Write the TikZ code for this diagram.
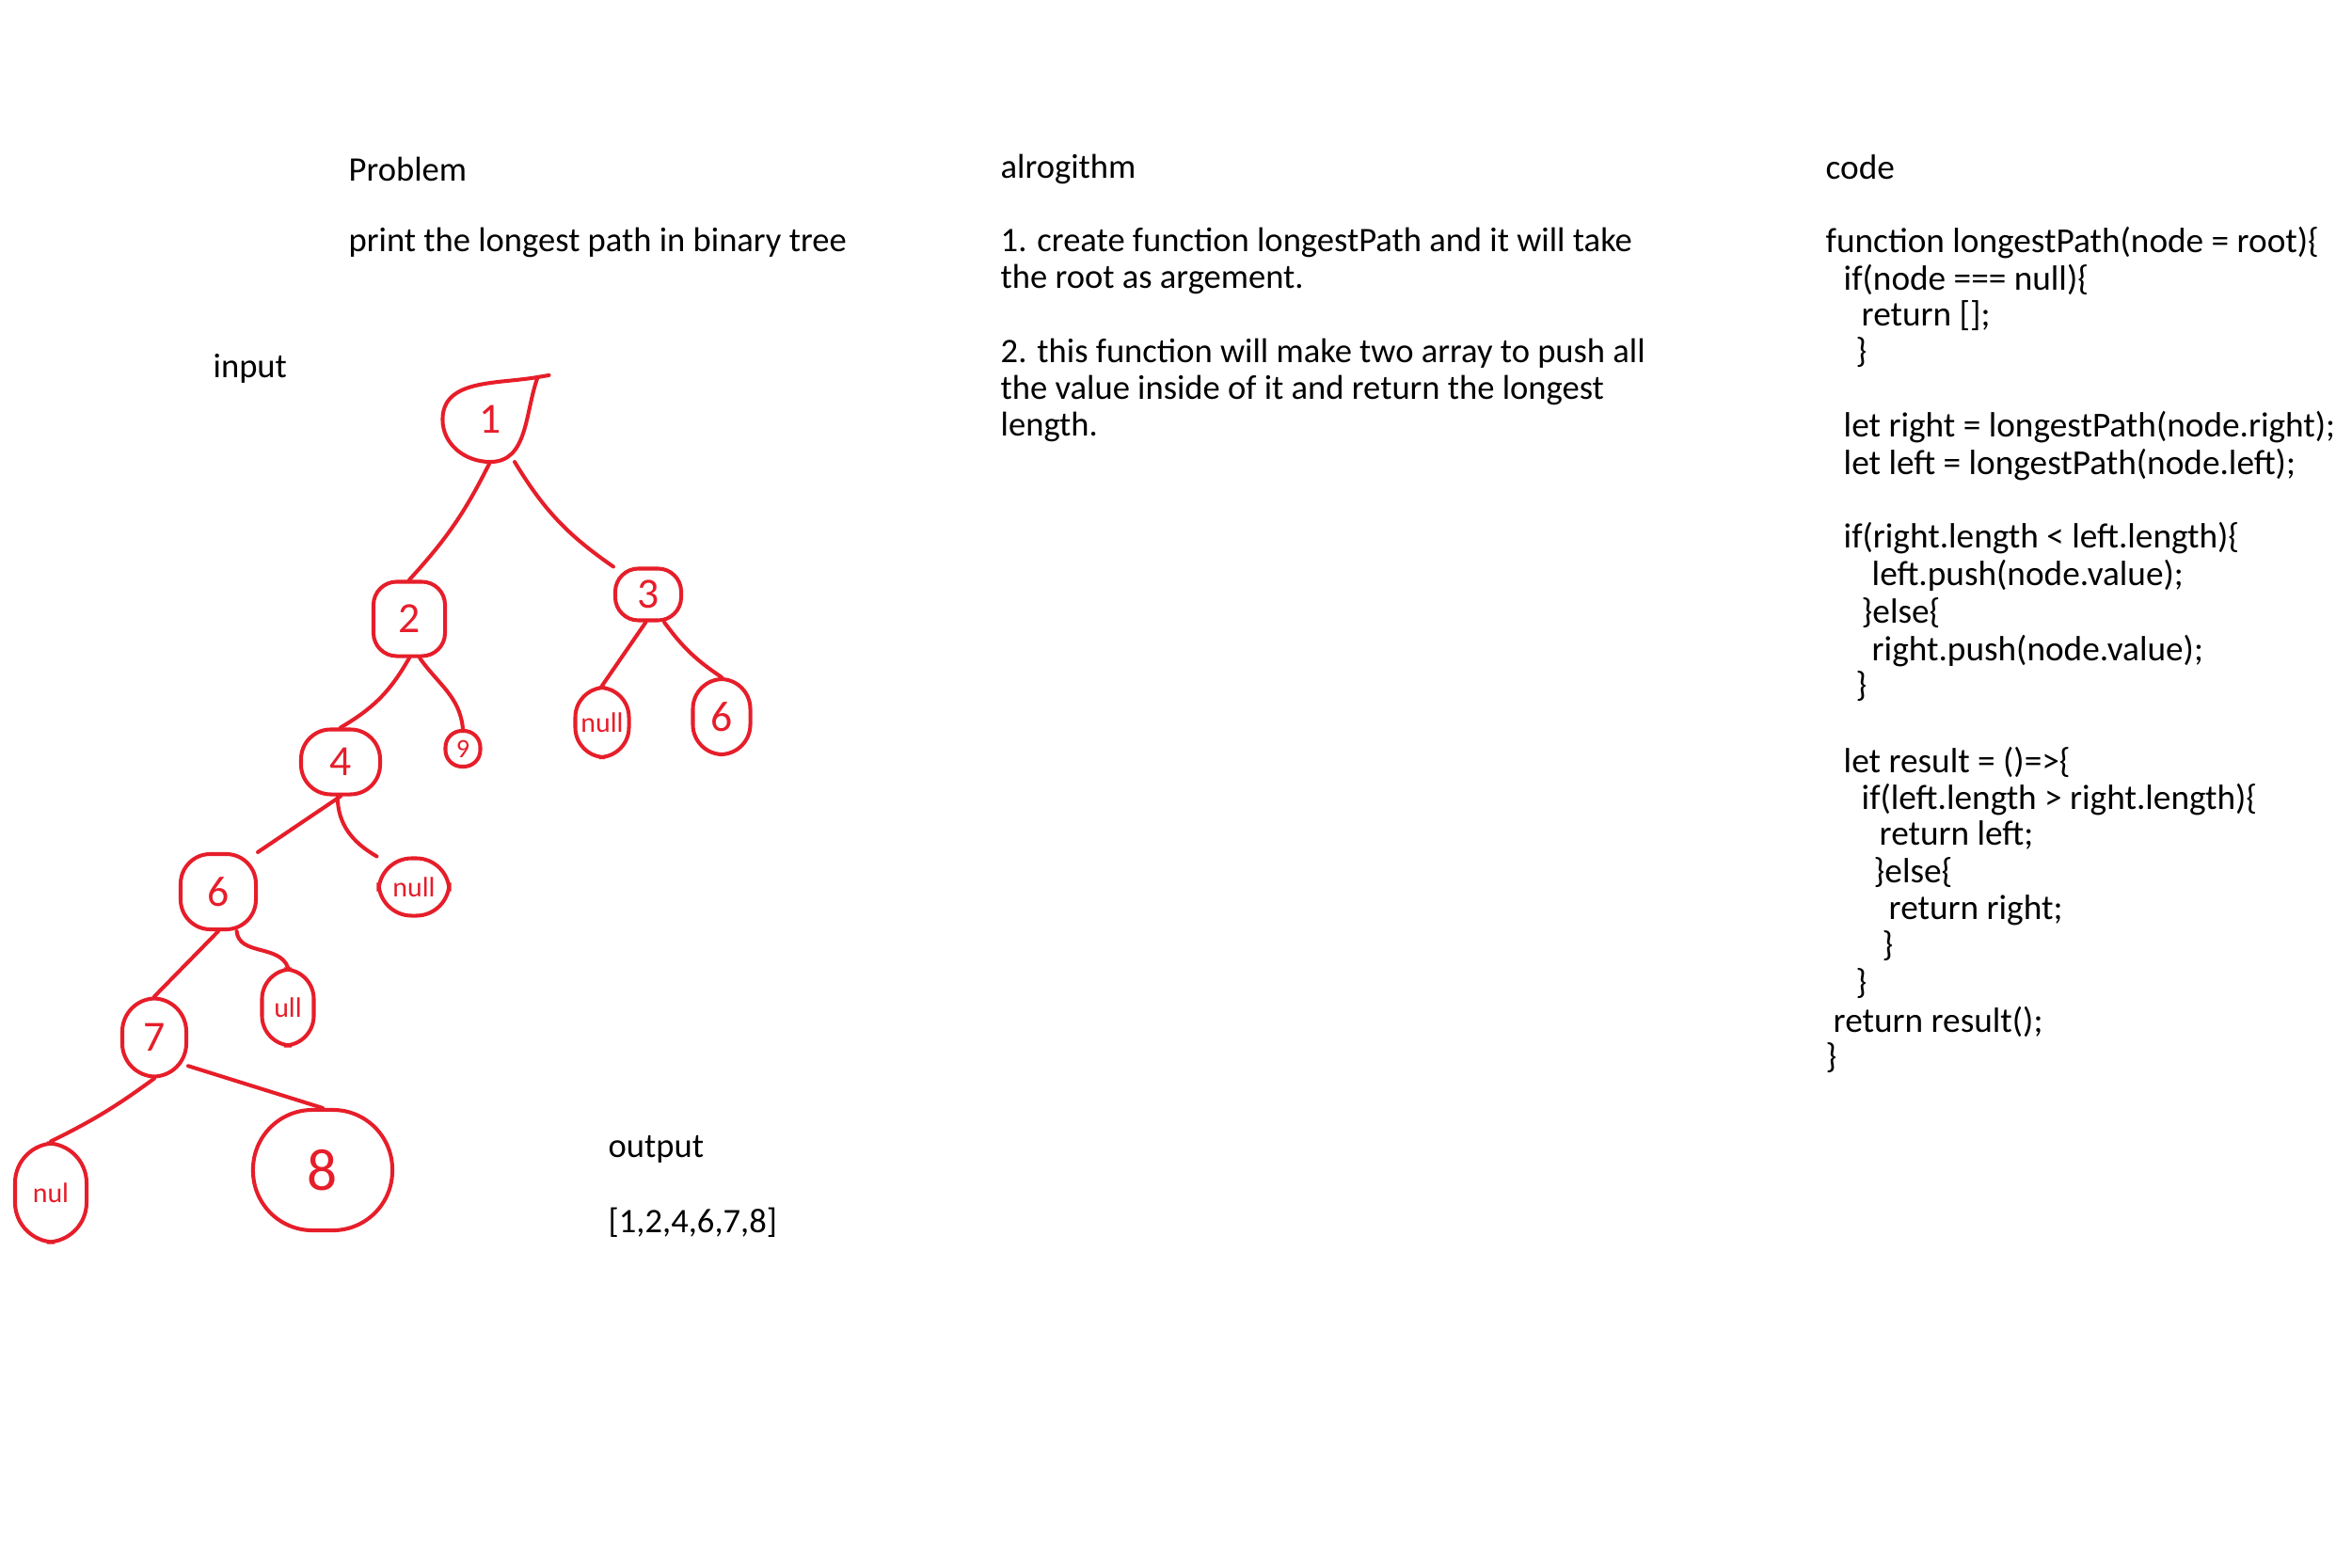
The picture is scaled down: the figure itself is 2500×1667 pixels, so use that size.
\documentclass[tikz,border=0pt]{standalone}
\usepackage{fontspec}
\setmainfont{Carlito}
\definecolor{tred}{RGB}{230,30,42}
\begin{document}
\begin{tikzpicture}[x=0.01cm,y=-0.01cm,
  txt/.style={anchor=west,inner sep=0pt,font=\fontsize{10.4}{12}\selectfont},
  codetxt/.style={anchor=west,inner sep=0pt,font=\fontsize{10.6}{12}\selectfont},
  tn/.style={draw=tred,line width=1.15pt,rounded corners=7pt,text=tred,inner sep=0pt,font=\fontsize{13}{13}\selectfont},
  tnsmall/.style={tn,font=\fontsize{8.5}{9}\selectfont},
  edge/.style={draw=tred,line width=1.15pt,line cap=round}]
\useasboundingbox (0,0) rectangle (2500,1667);
\fill[white] (0,0) rectangle (2500,1667);

% headings and problem text
\node[txt] (hprob) at (370,180) {Problem};
\node[txt] (prob) at (370,258) {print the longest path in binary tree};
\node[txt] (hinput) at (226,392) {input};
\node[txt] (halg) at (1063,180) {alrogithm};
\node[txt] (a1) at (1063,258) {1. create function longestPath and it will take};
\node[txt] (a2) at (1063,297) {the root as argement.};
\node[txt] (a3) at (1063,376) {2. this function will make two array to push all};
\node[txt] (a4) at (1063,415) {the value inside of it and return the longest};
\node[txt] (a5) at (1063,454) {length.};
\node[txt] (hout) at (646,1222) {output};
\node[txt] (out) at (646,1300) {[1,2,4,6,7,8]};

% code
\node[codetxt] (hcode) at (1940,178) {code};
\node[codetxt] (c1) at (1940,258) {function longestPath(node = root)\{};
\node[codetxt] (c2) at (1959,297) {if(node === null)\{};
\node[codetxt] (c3) at (1978,336) {return [];};
\node[codetxt] (c4) at (1972,375) {\}};
\node[codetxt] (c5) at (1959,454) {let right = longestPath(node.right);};
\node[codetxt] (c6) at (1959,494) {let left = longestPath(node.left);};
\node[codetxt] (c7) at (1959,572) {if(right.length < left.length)\{};
\node[codetxt] (c8) at (1989,612) {left.push(node.value);};
\node[codetxt] (c9) at (1978,652) {\}else\{};
\node[codetxt] (c10) at (1989,692) {right.push(node.value);};
\node[codetxt] (c11) at (1972,730) {\}};
\node[codetxt] (c12) at (1959,810) {let result = ()=>\{};
\node[codetxt] (c13) at (1978,850) {if(left.length > right.length)\{};
\node[codetxt] (c14) at (1997,888) {return left;};
\node[codetxt] (c15) at (1991,928) {\}else\{};
\node[codetxt] (c16) at (2007,968) {return right;};
\node[codetxt] (c17) at (2000,1006) {\}};
\node[codetxt] (c18) at (1972,1046) {\}};
\node[codetxt] (c19) at (1948,1086) {return result();};
\node[codetxt] (c20) at (1940,1125) {\}};

% tree nodes
\node[tn,draw=none,minimum width=0.97cm,minimum height=0.86cm] (n1) at (521,446) {1};
\draw[edge] (n1.north east) to[out=190,in=90] (n1.west) to[out=-90,in=180] (n1.south)
  to[out=0,in=-110] (n1.north east) -- ++(12,-2);
\node[tn,minimum width=0.76cm,minimum height=0.79cm] (n2) at (435,658) {2};
\node[tn,minimum width=0.70cm,minimum height=0.55cm] (n3) at (689,632) {3};
\node[tn,rounded corners=5pt,minimum width=0.37cm,minimum height=0.38cm,font=\fontsize{8}{8}\selectfont] (n9) at (492,796) {9};
\node[tnsmall,minimum width=0.57cm,minimum height=0.74cm,rounded corners=9pt] (nl3) at (640,768) {null};
\node[tn,minimum width=0.61cm,minimum height=0.80cm,rounded corners=9pt] (n6r) at (767,762) {6};
\node[tn,minimum width=0.84cm,minimum height=0.69cm,rounded corners=9pt] (n4) at (362,810) {4};
\node[tnsmall,minimum width=0.75cm,minimum height=0.61cm,rounded corners=10pt] (nl4) at (440,943) {null};
\node[tn,minimum width=0.80cm,minimum height=0.80cm,rounded corners=9pt] (n6) at (232,948) {6};
\node[tnsmall,minimum width=0.55cm,minimum height=0.81cm,rounded corners=9pt] (nl6) at (306,1071) {ull};
\node[tn,minimum width=0.68cm,minimum height=0.83cm,rounded corners=10pt] (n7) at (164,1103) {7};
\node[tnsmall,minimum width=0.76cm,minimum height=1.05cm,rounded corners=12pt] (nl7) at (54,1268) {nul};
\node[tn,minimum width=1.48cm,minimum height=1.28cm,rounded corners=18pt,font=\fontsize{18}{18}\selectfont] (n8) at (343,1244) {8};

% tree edges
\draw[edge] (n1.south) to[bend left=8] (n2.north);
\draw[edge] (n1.-60) to[bend right=12] (n3.north west);
\draw[edge] (n2.south) to[bend left=15] (n4.north);
\draw[edge] (n2.-75) to[out=-55,in=95] (n9.north);
\draw[edge] (n3.-95) to (nl3.north);
\draw[edge] (n3.-60) to[bend right=10] (n6r.north);
\draw[edge] (n4.south) to (n6.north east);
\draw[edge] (n4.-95) to[out=-90,in=150] (nl4.north west);
\draw[edge] (n6.south) to (n7.north);
\draw[edge] (n6.-65) to[out=-85,in=110] (nl6.north);
\draw[edge] (n7.south) to[bend left=5] (nl7.north);
\draw[edge] (n7.-40) to (n8.north);
\end{tikzpicture}
\end{document}
